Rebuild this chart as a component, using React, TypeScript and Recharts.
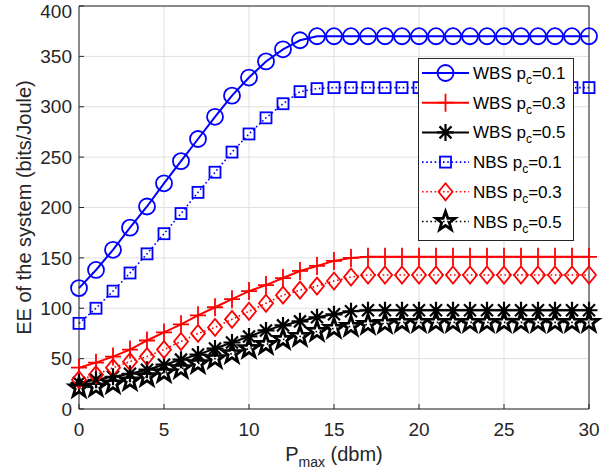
import React from 'react';
import { LineChart, Line, XAxis, YAxis, CartesianGrid, Legend } from 'recharts';

// P_max (dbm)
const pmax = [0, 1, 2, 3, 4, 5, 6, 7, 8, 9, 10, 11, 12, 13, 14, 15, 16, 17, 18, 19, 20, 21, 22, 23, 24, 25, 26, 27, 28, 29, 30];

// EE (bits/Joule)
const wbs01 = [120, 138, 158, 180, 201, 224, 246, 268, 290, 311, 329, 345, 357, 366, 370, 370, 370, 370, 370, 370, 370, 370, 370, 370, 370, 370, 370, 370, 370, 370, 370];
const wbs03 = [41, 46, 52, 59, 68, 76, 84, 93, 101, 109, 117, 123, 130, 137, 142, 147, 150, 151, 151, 151, 151, 151, 151, 151, 151, 151, 151, 151, 151, 151, 151];
const wbs05 = [26, 29, 32, 35, 39, 44, 49, 54, 60, 66, 72, 78, 83, 87, 91, 94, 97, 98, 98, 98, 98, 98, 98, 98, 98, 98, 98, 98, 98, 98, 98];
const nbs01 = [85, 100, 117, 135, 154, 174, 194, 215, 235, 255, 273, 289, 303, 315, 318, 319, 319, 319, 319, 319, 319, 319, 319, 319, 319, 319, 319, 319, 319, 319, 319];
const nbs03 = [29, 34, 41, 47, 52, 59, 67, 75, 81, 89, 97, 105, 113, 118, 122, 127, 131, 133, 133, 133, 133, 133, 133, 133, 133, 133, 133, 133, 133, 133, 133];
const nbs05 = [21, 22, 25, 28, 32, 36, 40, 45, 50, 55, 60, 64, 69, 72, 77, 80, 82, 84, 85, 86, 86, 86, 86, 86, 86, 86, 86, 86, 86, 86, 86];

const xTicks = [0, 5, 10, 15, 20, 25, 30];
const yTicks = [0, 50, 100, 150, 200, 250, 300, 350, 400];

const BLUE = '#0000ff';
const RED = '#ff0000';
const BLACK = '#000000';
const AXIS = '#262626';
const FONT = '"Liberation Sans", Arial, Helvetica, sans-serif';

type Kind = 'circle' | 'plus' | 'asterisk' | 'square' | 'diamond' | 'star';

const series = [
  { key: 'wbs01', scheme: 'WBS', pc: '0.1', values: wbs01, color: BLUE, dotted: false, kind: 'circle' as Kind },
  { key: 'wbs03', scheme: 'WBS', pc: '0.3', values: wbs03, color: RED, dotted: false, kind: 'plus' as Kind },
  { key: 'wbs05', scheme: 'WBS', pc: '0.5', values: wbs05, color: BLACK, dotted: false, kind: 'asterisk' as Kind },
  { key: 'nbs01', scheme: 'NBS', pc: '0.1', values: nbs01, color: BLUE, dotted: true, kind: 'square' as Kind },
  { key: 'nbs03', scheme: 'NBS', pc: '0.3', values: nbs03, color: RED, dotted: true, kind: 'diamond' as Kind },
  { key: 'nbs05', scheme: 'NBS', pc: '0.5', values: nbs05, color: BLACK, dotted: true, kind: 'star' as Kind },
];

const data = pmax.map((p, i) => {
  const row: Record<string, number> = { p };
  series.forEach((s) => (row[s.key] = s.values[i]));
  return row;
});

function starPoints(cx: number, cy: number, ro: number) {
  const ri = ro * 0.4;
  const pts: string[] = [];
  for (let k = 0; k < 10; k++) {
    const r = k % 2 === 0 ? ro : ri;
    const a = -Math.PI / 2 + (k * Math.PI) / 5;
    pts.push(`${cx + r * Math.cos(a)},${cy + r * Math.sin(a)}`);
  }
  return pts.join(' ');
}

const Marker = ({ kind, cx, cy, color }: { kind: Kind; cx: number; cy: number; color: string }) => {
  const sw = 1.8;
  if (cx == null || cy == null) return null;
  switch (kind) {
    case 'circle':
      return <circle cx={cx} cy={cy} r={8} fill="none" stroke={color} strokeWidth={sw} />;
    case 'plus':
      return <path d={`M${cx - 8},${cy}H${cx + 8}M${cx},${cy - 9}V${cy + 9}`} fill="none" stroke={color} strokeWidth={sw} />;
    case 'asterisk': {
      const d = 6;
      return (
        <path
          d={`M${cx - 8.5},${cy}H${cx + 8.5}M${cx},${cy - 8.5}V${cy + 8.5}M${cx - d},${cy - d}L${cx + d},${cy + d}M${cx - d},${cy + d}L${cx + d},${cy - d}`}
          fill="none"
          stroke={color}
          strokeWidth={2.2}
        />
      );
    }
    case 'square':
      return <rect x={cx - 5.5} y={cy - 5.5} width={11} height={11} fill="none" stroke={color} strokeWidth={sw} />;
    case 'diamond':
      return <path d={`M${cx},${cy - 8.5}L${cx + 7},${cy}L${cx},${cy + 8.5}L${cx - 7},${cy}Z`} fill="none" stroke={color} strokeWidth={sw} />;
    case 'star':
      return <polygon points={starPoints(cx, cy, 10)} fill="none" stroke={color} strokeWidth={2.8} strokeLinejoin="miter" />;
  }
  return null;
};

const XLabel = ({ viewBox }: any) => {
  const cx = viewBox.x + viewBox.width / 2;
  return (
    <text x={cx} y={461} textAnchor="middle" fontSize={20} fill={AXIS} fontFamily={FONT}>
      P<tspan dy={6} fontSize={14}>max</tspan>
      <tspan dy={-6}> (dbm)</tspan>
    </text>
  );
};

const YLabel = ({ viewBox }: any) => {
  const cy = viewBox.y + viewBox.height / 2;
  const cx = 31;
  return (
    <text
      x={cx}
      y={cy}
      transform={`rotate(-90 ${cx} ${cy})`}
      textAnchor="middle"
      fontSize={20}
      fill={AXIS}
      fontFamily={FONT}
    >
      EE of the system (bits/Joule)
    </text>
  );
};

const LegendBox = () => {
  const rowH = 29.7;
  return (
    <svg width={156} height={183} style={{ display: 'block' }}>
      <rect x={0.5} y={0.5} width={155} height={182} fill="#fff" stroke={AXIS} strokeWidth={1} />
      {series.map((s, i) => {
        const y = 15 + i * rowH;
        return (
          <g key={s.key}>
            <line
              x1={4}
              x2={51}
              y1={y}
              y2={y}
              stroke={s.color}
              strokeWidth={s.dotted ? 1.6 : 2}
              strokeDasharray={s.dotted ? '1.6 2.6' : undefined}
            />
            <Marker kind={s.kind} cx={27.5} cy={y} color={s.color} />
            <text x={55} y={y + 6} fontSize={17} fill="#000" fontFamily={FONT}>
              {s.scheme} p<tspan dy={5} fontSize={12}>c</tspan>
              <tspan dy={-5}>=</tspan>
              {s.pc}
            </text>
          </g>
        );
      })}
    </svg>
  );
};

export default function App() {
  return (
    <div style={{ position: 'absolute', left: 0, top: 0, width: 616, height: 474, background: '#fff' }}>
      <LineChart width={616} height={474} data={data} margin={{ top: 0, right: 0, bottom: 0, left: 0 }}>
        <CartesianGrid xAxisId="b" yAxisId="l" stroke="#dfdfdf" strokeWidth={1} vertical horizontal />
        <XAxis
          xAxisId="b"
          dataKey="p"
          type="number"
          domain={[0, 30]}
          ticks={xTicks}
          height={65}
          tickSize={-5}
          tickMargin={19}
          stroke={AXIS}
          tick={{ fontSize: 19, fill: AXIS, fontFamily: FONT }}
          label={<XLabel />}
        />
        <XAxis
          xAxisId="t"
          orientation="top"
          dataKey="p"
          type="number"
          domain={[0, 30]}
          ticks={xTicks}
          height={6}
          tickSize={-5}
          tick={false}
          stroke={AXIS}
        />
        <YAxis
          yAxisId="l"
          type="number"
          domain={[0, 400]}
          ticks={yTicks}
          width={79}
          tickSize={-5}
          tickMargin={12}
          stroke={AXIS}
          tick={{ fontSize: 19, fill: AXIS, fontFamily: FONT }}
          label={<YLabel />}
        />
        <YAxis
          yAxisId="r"
          orientation="right"
          type="number"
          domain={[0, 400]}
          ticks={yTicks}
          width={27}
          tickSize={-5}
          tick={false}
          stroke={AXIS}
        />
        {series.map((s) => (
          <Line
            key={s.key}
            xAxisId="b"
            yAxisId="l"
            dataKey={s.key}
            name={`${s.scheme} pc=${s.pc}`}
            stroke={s.color}
            strokeWidth={s.dotted ? 1.6 : 2}
            strokeDasharray={s.dotted ? '1.6 2.6' : undefined}
            type="linear"
            isAnimationActive={false}
            activeDot={false}
            dot={(p: any) => <Marker key={`${s.key}-${p.index}`} kind={s.kind} cx={p.cx} cy={p.cy} color={s.color} />}
          />
        ))}
        <Legend
          layout="vertical"
          align="center"
          verticalAlign="middle"
          content={<LegendBox />}
          wrapperStyle={{ left: 418, top: 58, width: 156, height: 183 }}
        />
      </LineChart>
    </div>
  );
}
